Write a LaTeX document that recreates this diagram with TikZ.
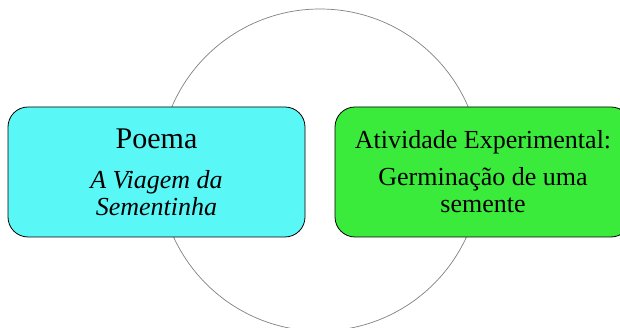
\documentclass[tikz,border=0pt]{standalone}
\usepackage{fontspec}
\setmainfont{Liberation Serif}
\usetikzlibrary{positioning}
\definecolor{boxcyan}{HTML}{5AF7F7}
\definecolor{boxgreen}{HTML}{3BEB3B}

\begin{document}
\begin{tikzpicture}[x=1pt, y=1pt,
	box/.style={draw, rounded corners=20pt, line width=0.8pt,
		minimum width=297pt, minimum height=130pt, align=center,
		font=\fontsize{26}{27}\selectfont},
	ring/.style={circle, draw=gray, line width=0.7pt, inner sep=0pt,
		minimum size=322pt}]
	\useasboundingbox (0,0) rectangle (620,328);
	\node[ring] (ring) at (320,158) {};
	\node[box, fill=boxcyan] (poema) at (156.5,156)
		{{\fontsize{30}{30}\selectfont Poema}\\[13pt]
		\textit{A Viagem da}\\ \textit{Sementinha}};
	\node[box, fill=boxgreen, minimum width=296pt] (atividade) at (483,156)
		{Atividade Experimental:\\[10pt]
		Germinação de uma\\ semente};
\end{tikzpicture}
\end{document}
